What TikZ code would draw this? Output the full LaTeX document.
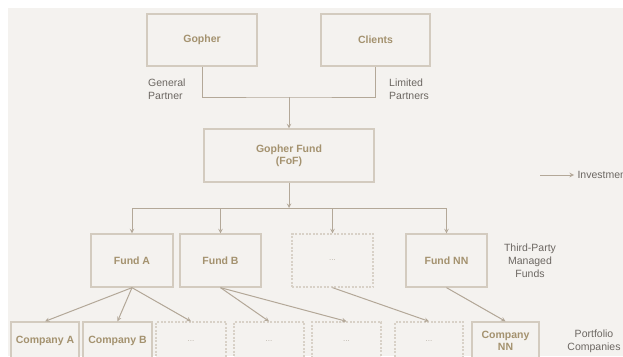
\documentclass[tikz,border=0pt]{standalone}
\usepackage{fontspec}
\setmainfont{Liberation Sans}
\definecolor{bgcol}{HTML}{F4F2EF}
\definecolor{boxline}{HTML}{D3CBBF}
\definecolor{dashline}{HTML}{D8D1C7}
\definecolor{arrline}{HTML}{B3A898}
\definecolor{boxtext}{HTML}{A4926F}
\definecolor{sidetext}{HTML}{6C6762}
\definecolor{dottext}{HTML}{B9B1A6}
\begin{document}
\begin{tikzpicture}[x=1pt,y=-1pt,>=stealth,
   box/.style={draw=boxline,line width=1.3pt,fill=bgcol,text=boxtext,align=center,inner sep=0pt,
     font=\fontsize{10.5}{12}\selectfont\bfseries},
   dbox/.style={box,draw=dashline,dash pattern=on 2pt off 1.5pt,text=dottext,font=\fontsize{8}{10}\selectfont},
   conn/.style={draw=arrline,line width=1pt},
   side/.style={text=sidetext,align=center,font=\fontsize{10.5}{13}\selectfont}]
   % 背景
   \useasboundingbox (0,0) rectangle (623,356);
   \fill[bgcol] (8,8) rectangle (623,356);

   % 上段
   \node[box,minimum width=110pt,minimum height=52pt] (gopher) at (202,40) {Gopher};
   \node[box,minimum width=109pt,minimum height=52pt] (clients) at (375.5,40) {Clients};
   \node[side,align=left,anchor=west,inner sep=0pt] (gp) at (148,89) {General\\Partner};
   \node[side,align=left,anchor=west,inner sep=0pt] (lp) at (389,89) {Limited\\Partners};
   \node[box,minimum width=170pt,minimum height=53pt] (fof) at (289,155.5) {Gopher Fund\\(FoF)};
   \coordinate (join) at (289,97);
   \draw[conn] (gopher.south) |- (join) -| (clients.south);
   \draw[conn,->] (join) -- (fof.north);

   % 凡例
   \node[side,anchor=west] (legtext) at (574,175) {Investment};
   \coordinate (legstart) at (540,175);
   \draw[conn,->] (legstart) -- (legtext.west);

   % ファンド
   \node[box,minimum width=82pt,minimum height=53pt] (fundA) at (132,260.5) {Fund A};
   \node[box,minimum width=81pt,minimum height=53pt] (fundB) at (220.5,260.5) {Fund B};
   \node[dbox,minimum width=81pt,minimum height=53pt] (fundX) at (332.5,260.5) {...};
   \node[box,minimum width=81pt,minimum height=53pt] (fundNN) at (446.5,260.5) {Fund NN};
   \node[side] (tpm) at (530,261) {Third-Party\\Managed\\Funds};
   \coordinate (split) at (289,208);
   \draw[conn,->] (fof.south) -- (split);
   \foreach \f in {fundA,fundB,fundX,fundNN}
      \draw[conn,->] (split) -| (\f.north);

   % 投資先
   \node[box,minimum width=68pt,minimum height=38pt] (compA) at (45,341) {Company A};
   \node[box,minimum width=69pt,minimum height=38pt] (compB) at (117.5,341) {Company B};
   \node[dbox,minimum width=70pt,minimum height=38pt] (compX) at (191,341) {...};
   \node[dbox,minimum width=70pt,minimum height=38pt] (compY) at (269,341) {...};
   \node[dbox,minimum width=69pt,minimum height=38pt] (compZ) at (346.5,341) {...};
   \node[dbox,minimum width=68pt,minimum height=38pt] (compW) at (429,341) {...};
   \node[box,minimum width=67pt,minimum height=38pt] (compNN) at (505.5,341) {Company\\NN};
   \node[side] (pc) at (594,341) {Portfolio\\Companies};
   \foreach \a/\b in {fundA/compA,fundA/compB,fundA/compX,fundB/compY,fundB/compZ,fundX/compW,fundNN/compNN}
      \draw[conn,->] (\a.south) -- (\b.north);
\end{tikzpicture}
\end{document}
